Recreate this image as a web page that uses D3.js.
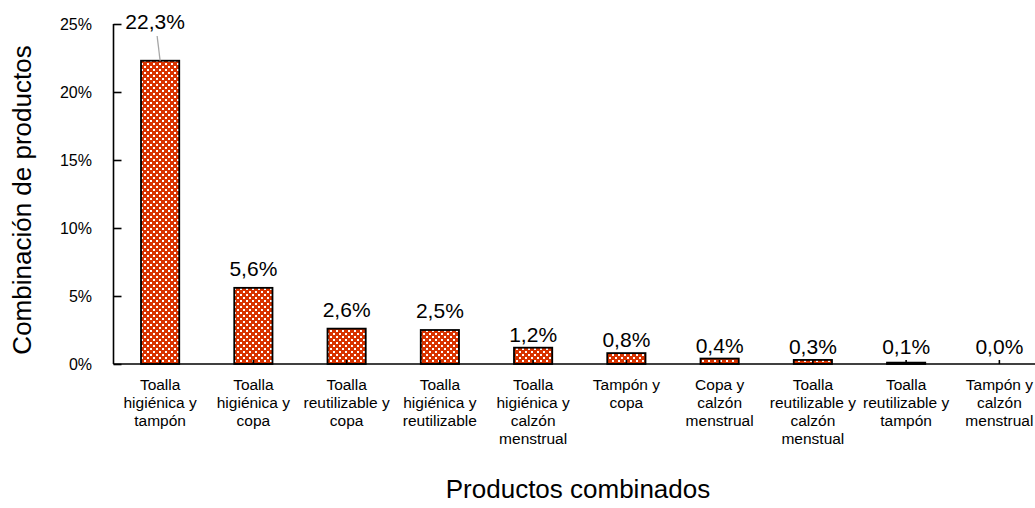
<!DOCTYPE html>
<html>
<head>
<meta charset="utf-8">
<script src="https://cdn.jsdelivr.net/npm/d3@7"></script>
<style>
  html, body { margin: 0; padding: 0; background: #fff; }
  svg { display: block; font-family: "Liberation Sans", Arial, sans-serif; }
</style>
</head>
<body>
<svg id="chart" width="1035" height="508"></svg>
<script>
// Combinations of menstrual products (share of respondents, %)
const categories = [
  "Toalla\nhigiénica y\ntampón",
  "Toalla\nhigiénica y\ncopa",
  "Toalla\nreutilizable y\ncopa",
  "Toalla\nhigiénica y\nreutilizable",
  "Toalla\nhigiénica y\ncalzón\nmenstrual",
  "Tampón y\ncopa",
  "Copa y\ncalzón\nmenstrual",
  "Toalla\nreutilizable y\ncalzón\nmenstual",
  "Toalla\nreutilizable y\ntampón",
  "Tampón y\ncalzón\nmenstrual"
];
const values = [22.3, 5.6, 2.6, 2.5, 1.2, 0.8, 0.4, 0.3, 0.1, 0.0];
const yTicks = [0, 5, 10, 15, 20, 25];
const yTitle = "Combinación de productos";
const xTitle = "Productos combinados";

const svg = d3.select("#chart");
const plotLeft = 113.5, plotRight = 1046, plotTop = 24, plotBottom = 364;

const x = d3.scaleBand()
  .domain(categories)
  .range([plotLeft, plotRight])
  .paddingInner(0.59)
  .paddingOuter(0.295);

const y = d3.scaleLinear().domain([0, 25]).range([plotBottom, plotTop]);

const fmt = v => v.toFixed(1).replace(".", ",") + "%";

// bar fill: white dots on red in a staggered lattice
const defs = svg.append("defs");
const pat = defs.append("pattern")
  .attr("id", "checks")
  .attr("patternUnits", "userSpaceOnUse")
  .attr("width", 6).attr("height", 6);
pat.append("rect").attr("width", 6).attr("height", 6).attr("fill", "#d83300");
pat.append("rect").attr("x", 0).attr("y", 0).attr("width", 2).attr("height", 2).attr("fill", "#fff");
pat.append("rect").attr("x", 3).attr("y", 3).attr("width", 2).attr("height", 2).attr("fill", "#fff");

// bars
svg.append("g").selectAll("rect")
  .data(values)
  .join("rect")
  .attr("x", (d, i) => x(categories[i]))
  .attr("y", d => y(d))
  .attr("width", x.bandwidth())
  .attr("height", d => plotBottom - y(d))
  .attr("fill", "url(#checks)")
  .attr("stroke", "#000")
  .attr("stroke-width", 1.8);

// y axis (ticks point inward)
const yAxis = svg.append("g")
  .attr("transform", `translate(${plotLeft},0)`)
  .call(d3.axisRight(y).tickValues(yTicks).tickSize(8).tickFormat(""));
yAxis.select(".domain").attr("stroke", "#000").attr("stroke-width", 1.6)
  .attr("d", `M0,${plotTop}V${plotBottom}`);
yAxis.selectAll(".tick line").attr("stroke", "#000").attr("stroke-width", 1.6);

svg.append("g").selectAll("text")
  .data(yTicks)
  .join("text")
  .attr("x", 92)
  .attr("y", d => y(d))
  .attr("dy", "0.35em")
  .attr("text-anchor", "end")
  .attr("font-size", 16)
  .attr("fill", "#000")
  .text(d => d + "%");

// x axis with small upward ticks at category centres
const xAxis = svg.append("g")
  .attr("transform", `translate(0,${plotBottom})`)
  .call(d3.axisTop(x).tickSize(4).tickFormat(""));
xAxis.select(".domain").attr("stroke", "#000").attr("stroke-width", 1.6)
  .attr("d", `M${plotLeft},0H1035`);
xAxis.selectAll(".tick line").attr("stroke", "#000").attr("stroke-width", 1.6);

// category labels
const catG = svg.append("g").selectAll("text")
  .data(categories)
  .join("text")
  .attr("text-anchor", "middle")
  .attr("font-size", 15.5)
  .attr("fill", "#000")
  .attr("transform", d => `translate(${x(d) + x.bandwidth() / 2},390)`);
catG.selectAll("tspan")
  .data(d => d.split("\n"))
  .join("tspan")
  .attr("x", 0)
  .attr("y", (d, i) => i * 18)
  .text(d => d);

// value labels
const labels = svg.append("g");
values.forEach((v, i) => {
  const cx = x(categories[i]) + x.bandwidth() / 2;
  if (y(v) < plotTop + 45) {
    // label above the plot area with a leader line
    labels.append("line")
      .attr("x1", cx - 3).attr("y1", 36)
      .attr("x2", cx).attr("y2", y(v))
      .attr("stroke", "#a6a6a6").attr("stroke-width", 1.3);
    labels.append("text")
      .attr("x", cx - 5).attr("y", 29)
      .attr("text-anchor", "middle")
      .attr("font-size", 21)
      .text(fmt(v));
  } else {
    const gap = v >= 2 ? 12 : 6;
    labels.append("text")
      .attr("x", cx).attr("y", Math.min(y(v), plotBottom - 4) - gap)
      .attr("text-anchor", "middle")
      .attr("font-size", 21)
      .text(fmt(v));
  }
});

// axis titles
svg.append("text")
  .attr("transform", `translate(31,200) rotate(-90)`)
  .attr("text-anchor", "middle")
  .attr("font-size", 26)
  .text(yTitle);

svg.append("text")
  .attr("x", 578).attr("y", 498)
  .attr("text-anchor", "middle")
  .attr("font-size", 26)
  .text(xTitle);
</script>
</body>
</html>
